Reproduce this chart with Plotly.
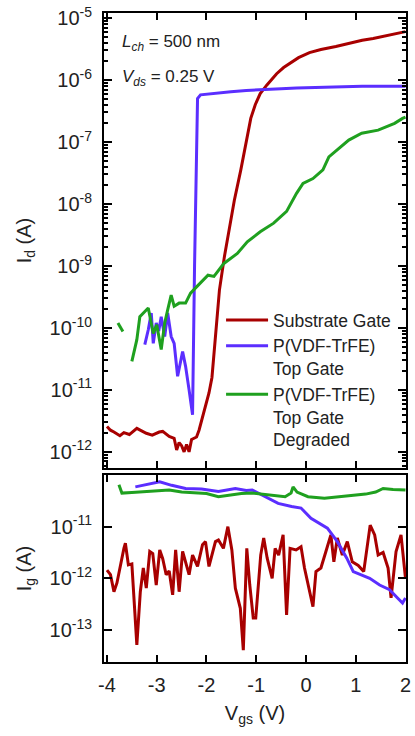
import plotly.graph_objects as go

# ---------------- data (log10 of current in A) ----------------
# Top panel: drain current Id vs Vgs
vgs_sub = [-4.0, -3.93, -3.86, -3.74, -3.66, -3.55, -3.40, -3.29, -3.21, -3.09, -2.95, -2.88,
           -2.75, -2.65, -2.60, -2.55, -2.50, -2.45, -2.40, -2.35, -2.30, -2.25, -2.20, -2.15,
           -2.08, -2.02, -1.95, -1.89, -1.82, -1.74, -1.64, -1.54, -1.44, -1.31, -1.21, -1.11,
           -1.02, -0.92, -0.785, -0.59, -0.45, -0.33, -0.15, 0.07, 0.3, 0.6, 0.85, 1.13, 1.35,
           1.52, 1.75, 1.94, 2.0]
logid_sub = [-11.59, -11.65, -11.68, -11.74, -11.69, -11.72, -11.62, -11.66, -11.70, -11.73, -11.68, -11.67,
             -11.75, -11.78, -11.97, -11.85, -11.90, -12.0, -11.88, -12.0, -11.80, -11.78, -11.76, -11.65,
             -11.45, -11.27, -11.05, -10.80, -10.20, -9.39, -8.85, -8.37, -7.94, -7.45, -7.05, -6.62,
             -6.40, -6.22, -6.08, -5.90, -5.80, -5.73, -5.64, -5.56, -5.51, -5.46, -5.41, -5.36, -5.33,
             -5.30, -5.27, -5.23, -5.22]

vgs_top = [-3.24, -3.17, -3.11, -3.07, -3.01, -2.96, -2.91, -2.84, -2.78, -2.71, -2.65, -2.58,
           -2.48, -2.42, -2.35, -2.28, -2.24, -2.20, -2.18, -2.12, -1.80, -1.51, -1.2, -0.84,
           -0.5, -0.19, 0.2, 0.46, 0.8, 1.13, 1.5, 1.94, 2.0]
logid_top = [-10.27, -10.03, -9.76, -10.25, -9.92, -10.05, -9.82, -10.14, -9.76, -10.14, -10.25, -10.78,
             -10.38, -10.62, -11.0, -11.40, -9.0, -6.8, -6.30, -6.24, -6.21, -6.19, -6.17, -6.15,
             -6.14, -6.13, -6.12, -6.11, -6.11, -6.10, -6.10, -6.10, -6.10]

vgs_deg = [-3.78, -3.68, None, -3.50, -3.40, -3.34, -3.24, -3.17, -3.07, -3.0, -2.91, -2.84,
           -2.78, -2.71, -2.65, -2.55, -2.42, -2.32, -2.19, -2.09, -1.97, -1.85, -1.65, -1.38,
           -1.18, -0.92, -0.65, -0.39, -0.19, -0.06, 0.14, 0.34, 0.46, 0.86, 1.12, 1.45,
           1.78, 1.94, 2.0]
logid_deg = [-9.92, -10.06, None, -10.54, -10.19, -9.82, -9.74, -9.68, -10.09, -9.95, -10.35, -9.92,
             -9.71, -9.47, -9.65, -9.60, -9.60, -9.44, -9.33, -9.25, -9.15, -9.17, -8.96, -8.80,
             -8.61, -8.45, -8.31, -8.12, -7.83, -7.67, -7.59, -7.45, -7.24, -6.97, -6.86, -6.81,
             -6.70, -6.62, -6.60]

# Bottom panel: gate leakage Ig vs Vgs
vgs_sub_g = [-4.0, -3.93, -3.86, -3.80, -3.66, -3.63, -3.57, -3.50, -3.40, -3.33, -3.27, -3.21,
             -3.14, -3.08, -3.01, -2.94, -2.88, -2.81, -2.75, -2.68, -2.62, -2.55, -2.48, -2.42,
             -2.35, -2.28, -2.18, -2.08, -2.02, -1.95, -1.82, -1.76, -1.66, -1.57, -1.49, -1.42,
             -1.32, -1.26, -1.19, -1.13, -1.06, -1.01, -0.91, -0.85, -0.78, -0.68, -0.62, -0.55,
             -0.46, -0.39, -0.32, -0.20, -0.10, -0.03, 0.07, 0.14, 0.20, 0.30, 0.40, 0.50,
             0.56, 0.63, 0.73, 0.83, 0.93, 1.05, 1.16, 1.29, 1.38, 1.45, 1.55, 1.65,
             1.71, 1.81, 1.91, 2.0]
logig_sub = [-11.84, -11.93, -12.26, -12.09, -11.42, -11.32, -11.74, -11.72, -13.29, -12.26, -11.80, -12.19,
             -11.48, -11.52, -12.13, -11.45, -11.62, -11.93, -11.86, -12.32, -11.45, -12.26, -11.48, -11.68,
             -11.93, -11.55, -11.77, -11.35, -11.29, -11.77, -11.29, -11.26, -11.42, -11.0, -11.45, -12.19,
             -12.58, -13.39, -11.42, -12.13, -12.77, -12.77, -11.55, -11.22, -11.61, -12.0, -11.42, -11.55,
             -11.16, -12.71, -11.42, -11.45, -11.39, -11.80, -12.26, -12.55, -11.87, -11.80, -11.48, -11.16,
             -11.68, -11.22, -11.55, -11.29, -11.68, -11.75, -11.87, -10.97, -11.16, -11.55, -11.50, -11.80,
             -12.38, -11.48, -11.16, -12.0]

vgs_top_g = [-3.43, -3.3, -3.1, -2.94, -2.7, -2.42, -2.1, -1.76, -1.42, -1.2, -1.08, -0.82,
             -0.56, -0.29, -0.10, 0.10, 0.43, 0.63, 0.82, 0.95, 1.09, 1.28, 1.48, 1.68,
             1.84, 1.94, 2.0]
logig_top = [-10.23, -10.20, -10.16, -10.13, -10.20, -10.26, -10.27, -10.32, -10.26, -10.30, -10.29, -10.42,
             -10.55, -10.61, -10.64, -10.84, -11.03, -11.29, -11.61, -11.87, -11.93, -12.0, -12.13, -12.22,
             -12.38, -12.48, -12.38]

vgs_deg_g = [-3.76, -3.72, -3.70, -3.5, -3.2, -2.95, -2.75, -2.5, -2.2, -2.0, -1.76, -1.5,
             -1.3, -1.08, -0.8, -0.42, -0.30, -0.26, -0.18, 0.04, 0.37, 0.6, 0.89, 1.2,
             1.4, 1.55, 1.75, 2.0]
logig_deg = [-10.19, -10.30, -10.35, -10.34, -10.32, -10.31, -10.29, -10.33, -10.35, -10.36, -10.42, -10.38,
             -10.36, -10.35, -10.38, -10.42, -10.35, -10.23, -10.33, -10.42, -10.45, -10.43, -10.39, -10.37,
             -10.33, -10.26, -10.28, -10.29]

series_names = ["Substrate Gate", "P(VDF-TrFE)<br>Top Gate", "P(VDF-TrFE)<br>Top Gate<br>Degraded"]
colors = ["#A80000", "#5B2EFF", "#1FA01F"]

x_ticks = [-4, -3, -2, -1, 0, 1, 2]
x_ticktext = ["-4", "-3", "-2", "-1", "0", "1", "2"]
id_tick_exp = [-12, -11, -10, -9, -8, -7, -6, -5]
ig_tick_exp = [-13, -12, -11]


def to_amps(logs):
    return [None if v is None else 10 ** v for v in logs]


FONT = "Liberation Sans, Arial, Helvetica, sans-serif"
TXT = "#222222"
LW = 3

fig = go.Figure()
top_sets = [(vgs_sub, logid_sub), (vgs_top, logid_top), (vgs_deg, logid_deg)]
bot_sets = [(vgs_sub_g, logig_sub), (vgs_top_g, logig_top), (vgs_deg_g, logig_deg)]
for i, (xs, ys) in enumerate(top_sets):
    fig.add_trace(go.Scatter(x=xs, y=to_amps(ys), mode="lines", name=series_names[i],
                             line=dict(color=colors[i], width=LW), connectgaps=False,
                             xaxis="x", yaxis="y"))
for i, (xs, ys) in enumerate(bot_sets):
    fig.add_trace(go.Scatter(x=xs, y=to_amps(ys), mode="lines", name=series_names[i],
                             line=dict(color=colors[i], width=LW), showlegend=False,
                             xaxis="x2", yaxis="y2"))

minor_vals = [k * 10.0 ** e for e in range(-13, -4) for k in range(2, 10)]

axis_common = dict(showline=True, linewidth=2, linecolor="black", mirror="ticks",
                   ticks="inside", tickcolor="black", tickwidth=2, showgrid=False, zeroline=False,
                   tickfont=dict(family=FONT, size=20, color=TXT))

H_PLOT = 736 - 13 - 74
fig.update_layout(
    width=415, height=736,
    margin=dict(l=104, r=4, t=13, b=74),
    paper_bgcolor="white", plot_bgcolor="white",
    font=dict(family=FONT, color=TXT),
    xaxis=dict(domain=[0, 1], anchor="y", range=[-4.06, 2.01], tickmode="array",
               tickvals=x_ticks, showticklabels=False, ticklen=7, **axis_common),
    yaxis=dict(domain=[(662 - 468) / H_PLOT, 1], anchor="x", type="log", range=[-12.26, -4.92],
               tickmode="array", tickvals=[10.0 ** e for e in id_tick_exp],
               ticktext=["10<sup>%d</sup>" % e for e in id_tick_exp],
               ticklen=8, ticklabelstandoff=6,
               minor=dict(tickmode="array", tickvals=minor_vals, ticks="inside", ticklen=4,
                          tickwidth=1.5, tickcolor="black", showgrid=False),
               title=dict(text="I<sub>d</sub> (A)", font=dict(family=FONT, size=20, color=TXT),
                          standoff=13),
               **axis_common),
    xaxis2=dict(domain=[0, 1], anchor="y2", range=[-4.06, 2.01], tickmode="array",
                tickvals=x_ticks, ticktext=x_ticktext, ticklen=7, ticklabelstandoff=4,
                title=dict(text="V<sub>gs</sub> (V)", font=dict(family=FONT, size=20, color=TXT),
                           standoff=11),
                **axis_common),
    yaxis2=dict(domain=[0, (662 - 475) / H_PLOT], anchor="x2", type="log", range=[-13.62, -10.0],
                tickmode="array", tickvals=[10.0 ** e for e in ig_tick_exp],
                ticktext=["10<sup>%d</sup>" % e for e in ig_tick_exp],
                ticklen=8, ticklabelstandoff=6,
                title=dict(text="I<sub>g</sub> (A)", font=dict(family=FONT, size=20, color=TXT),
                           standoff=13),
                **axis_common),
    legend=dict(x=(223 - 104) / 307, y=(662 - 302) / H_PLOT, xanchor="left", yanchor="top",
                bgcolor="rgba(0,0,0,0)", borderwidth=0, valign="top", itemwidth=42,
                font=dict(family=FONT, size=17.5, color=TXT), tracegroupgap=0),
    showlegend=True,
)

fig.add_annotation(xref="x domain", yref="y domain", x=(120 - 104) / 307, y=(468 - 43) / 455,
                   xanchor="left", yanchor="middle", showarrow=False,
                   text="<i>L</i><sub><i>ch</i></sub> = 500 nm",
                   font=dict(family=FONT, size=17, color=TXT))
fig.add_annotation(xref="x domain", yref="y domain", x=(120 - 104) / 307, y=(468 - 78) / 455,
                   xanchor="left", yanchor="middle", showarrow=False,
                   text="<i>V</i><sub><i>ds</i></sub> = 0.25 V",
                   font=dict(family=FONT, size=17, color=TXT))

fig.write_html("out.html")
